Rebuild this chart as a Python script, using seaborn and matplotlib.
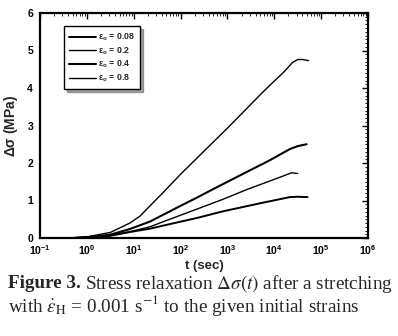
import numpy as np
import pandas as pd
import matplotlib
matplotlib.use("Agg")
import matplotlib.pyplot as plt
from matplotlib.ticker import LogLocator, MultipleLocator, NullFormatter
import seaborn as sns

# ---- data ----
strain_labels = ["0.08", "0.2", "0.4", "0.8"]

t_008 = [0.5, 1, 3.2, 8.3, 22.4, 36, 234, 794, 5620, 21400, 31600, 51300]
s_008 = [0.0, 0.02, 0.06, 0.16, 0.25, 0.31, 0.54, 0.71, 0.94, 1.09, 1.10, 1.09]

t_02 = [0.5, 1, 3.2, 8.3, 22.4, 36, 234, 794, 2570, 13200, 23400, 31600]
s_02 = [0.0, 0.02, 0.07, 0.17, 0.30, 0.40, 0.78, 1.03, 1.29, 1.62, 1.74, 1.72]

t_04 = [0.5, 1, 3.2, 8.3, 22.4, 97, 234, 490, 1120, 2570, 7940, 21400, 31600, 49000]
s_04 = [0.0, 0.02, 0.09, 0.24, 0.44, 0.85, 1.09, 1.30, 1.53, 1.76, 2.07, 2.37, 2.45, 2.50]

t_08 = [0.5, 1, 3.2, 8.3, 13.5, 22.4, 40, 100, 1000, 2570, 5000, 9330, 15800, 24500, 31600, 39800, 53700]
s_08 = [0.0, 0.03, 0.15, 0.40, 0.58, 0.86, 1.18, 1.70, 2.93, 3.45, 3.82, 4.15, 4.42, 4.68, 4.76, 4.76, 4.73]

x_ticks = [0.1, 1, 10, 100, 1000, 10000, 100000, 1000000]
x_ticklabels = [r"$\mathbf{10^{-1}}$", r"$\mathbf{10^{0}}$", r"$\mathbf{10^{1}}$", r"$\mathbf{10^{2}}$",
                r"$\mathbf{10^{3}}$", r"$\mathbf{10^{4}}$", r"$\mathbf{10^{5}}$", r"$\mathbf{10^{6}}$"]
y_ticks = [0, 1, 2, 3, 4, 5, 6]

frames = []
for lab, t, s in zip(strain_labels, [t_008, t_02, t_04, t_08], [s_008, s_02, s_04, s_08]):
    frames.append(pd.DataFrame({"t": t, "ds": s, "strain": lab}))
df = pd.concat(frames, ignore_index=True)

sns.set_style("white")
plt.rcParams["font.family"] = ["Liberation Sans", "DejaVu Sans"]
plt.rcParams["mathtext.fontset"] = "custom"
plt.rcParams["mathtext.rm"] = "Liberation Sans"
plt.rcParams["mathtext.bf"] = "Liberation Sans:bold"
plt.rcParams["mathtext.it"] = "Liberation Sans:italic"

fig = plt.figure(figsize=(3.98, 3.36), dpi=100)
ax = fig.add_axes([40/398, 1-238/336, (368-40)/398, (238-13)/336])

sns.lineplot(data=df, x="t", y="ds", hue="strain", hue_order=strain_labels,
             palette=["black"] * 4, estimator=None, sort=False, ax=ax, legend=False)
widths = [1.4, 1.0, 1.5, 1.0]
for line, w in zip(ax.get_lines(), widths):
    line.set_linewidth(w)

ax.set_xscale("log")
ax.set_xlim(0.1, 1e6)
ax.set_ylim(0, 6)
ax.set_xticks(x_ticks)
ax.set_xticklabels(x_ticklabels)
ax.xaxis.set_minor_locator(LogLocator(base=10, subs=np.arange(2, 10), numticks=20))
ax.xaxis.set_minor_formatter(NullFormatter())
ax.set_yticks(y_ticks)
ax.set_yticklabels([str(v) for v in y_ticks], fontweight="bold")
ax.yaxis.set_minor_locator(MultipleLocator(0.1))

ax.tick_params(which="both", direction="in", top=True, right=True, colors="black")
ax.tick_params(which="major", length=4, width=1.0, labelsize=7.5)
ax.tick_params(axis="x", which="major", pad=4)
ax.tick_params(axis="y", which="major", pad=5)
ax.tick_params(which="minor", length=2, width=0.6)
for sp in ax.spines.values():
    sp.set_linewidth(1.6)
    sp.set_color("black")

ax.set_xlabel("t (sec)", fontsize=9.5, fontweight="bold", labelpad=2)
ax.set_ylabel(r"$\mathbf{\Delta\sigma}$ (MPa)", fontsize=10, fontweight="bold", labelpad=5)

handles = ax.get_lines()
leg_labels = [r"$\mathbf{\varepsilon_o}$ = " + v for v in strain_labels]
leg = ax.legend(handles, leg_labels, loc="upper left", bbox_to_anchor=(0.06, 0.96),
                frameon=True, fancybox=False, shadow=True,
                handlelength=3.0, handletextpad=0.3, borderpad=0.6, labelspacing=0.25,
                prop={"weight": "bold", "size": 6.3})
leg.get_frame().set_edgecolor("black")
leg.get_frame().set_linewidth(1.0)

# caption
cap_font = "Liberation Serif"
cap_size = 13.8
r = fig.canvas.get_renderer()
t1 = fig.text(8/398, 1-284/336, "Figure 3.", fontsize=cap_size, fontweight="bold",
              family=cap_font, va="center", ha="left")
bb = t1.get_window_extent(renderer=r)
fig.text((bb.x1 + 4)/398, 1-284/336, r"Stress relaxation $\Delta\sigma(t)$ after a stretching",
         fontsize=cap_size, family=cap_font, va="center", ha="left",
         math_fontfamily="stix")
fig.text(8/398, 1-306/336, r"with $\dot{\varepsilon}_{\rm H}$ = 0.001 s$^{-1}$ to the given initial strains",
         fontsize=cap_size, family=cap_font, va="center", ha="left", math_fontfamily="stix")

fig.savefig("out.png", dpi=100)
